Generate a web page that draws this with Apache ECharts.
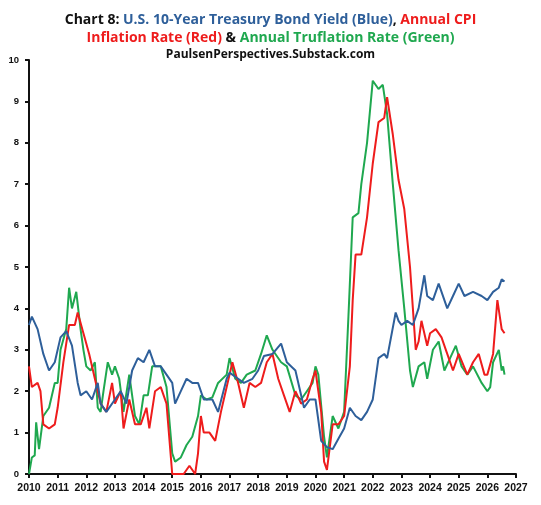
<!DOCTYPE html>
<html>
<head>
<meta charset="utf-8">
<script src="https://cdn.jsdelivr.net/npm/echarts@6/dist/echarts.min.js"></script>
<style>html,body{margin:0;padding:0;background:#fff}#main{width:541px;height:505px}</style>
</head>
<body>
<div id="main"></div>
<script>
//10年期国债收益率
var yieldData = [[2010.0,3.6],[2010.1,3.8],[2010.3,3.5],[2010.5,2.9],[2010.7,2.5],[2010.9,2.7],[2011.1,3.3],[2011.3,3.45],[2011.5,3.1],[2011.7,2.2],[2011.8,1.9],[2012.0,2.0],[2012.2,1.8],[2012.4,2.2],[2012.5,1.7],[2012.7,1.5],[2013.0,1.8],[2013.2,2.0],[2013.4,1.7],[2013.6,2.5],[2013.8,2.8],[2014.0,2.7],[2014.2,3.0],[2014.4,2.6],[2014.6,2.6],[2014.8,2.4],[2015.0,2.2],[2015.1,1.7],[2015.3,2.0],[2015.5,2.3],[2015.7,2.2],[2015.9,2.2],[2016.1,1.8],[2016.4,1.8],[2016.6,1.5],[2016.9,2.3],[2017.0,2.45],[2017.3,2.3],[2017.5,2.2],[2017.8,2.3],[2018.0,2.5],[2018.2,2.85],[2018.5,2.9],[2018.8,3.15],[2019.0,2.7],[2019.3,2.5],[2019.6,1.6],[2019.8,1.8],[2020.0,1.8],[2020.2,0.8],[2020.4,0.65],[2020.6,0.6],[2020.8,0.85],[2021.0,1.1],[2021.2,1.6],[2021.4,1.4],[2021.6,1.3],[2021.8,1.5],[2022.0,1.8],[2022.2,2.8],[2022.4,2.9],[2022.5,2.8],[2022.8,3.9],[2022.9,3.7],[2023.0,3.6],[2023.2,3.7],[2023.4,3.6],[2023.6,4.0],[2023.8,4.8],[2023.9,4.3],[2024.1,4.2],[2024.3,4.6],[2024.6,4.0],[2024.8,4.3],[2025.0,4.6],[2025.2,4.3],[2025.5,4.4],[2025.8,4.3],[2026.0,4.2],[2026.2,4.4],[2026.4,4.5],[2026.5,4.7],[2026.6,4.65]];
//CPI通胀率
var cpiData = [[2010.0,2.6],[2010.1,2.1],[2010.3,2.2],[2010.4,2.0],[2010.5,1.2],[2010.7,1.1],[2010.9,1.2],[2011.0,1.6],[2011.2,2.7],[2011.4,3.6],[2011.6,3.6],[2011.7,3.9],[2011.9,3.4],[2012.1,2.9],[2012.3,2.3],[2012.5,1.7],[2012.7,1.5],[2012.9,2.2],[2013.0,1.7],[2013.2,2.0],[2013.3,1.1],[2013.5,1.8],[2013.7,1.2],[2013.9,1.2],[2014.1,1.6],[2014.2,1.1],[2014.4,2.0],[2014.6,2.1],[2014.8,1.7],[2015.0,0.0],[2015.2,0.0],[2015.4,0.0],[2015.6,0.2],[2015.8,0.0],[2015.9,0.5],[2016.0,1.4],[2016.1,1.0],[2016.3,1.0],[2016.5,0.8],[2016.7,1.5],[2016.9,2.1],[2017.1,2.7],[2017.3,2.2],[2017.5,1.6],[2017.7,2.2],[2017.9,2.1],[2018.1,2.2],[2018.3,2.7],[2018.5,2.9],[2018.7,2.3],[2018.9,1.9],[2019.1,1.5],[2019.3,2.0],[2019.5,1.7],[2019.7,1.8],[2019.9,2.3],[2020.0,2.5],[2020.2,1.5],[2020.3,0.3],[2020.4,0.1],[2020.6,1.2],[2020.8,1.2],[2021.0,1.4],[2021.2,2.6],[2021.3,4.2],[2021.4,5.3],[2021.6,5.3],[2021.8,6.2],[2022.0,7.5],[2022.2,8.5],[2022.4,8.6],[2022.5,9.1],[2022.7,8.2],[2022.9,7.1],[2023.1,6.4],[2023.3,5.0],[2023.4,4.0],[2023.5,3.0],[2023.6,3.2],[2023.7,3.7],[2023.9,3.1],[2024.0,3.4],[2024.2,3.5],[2024.4,3.3],[2024.6,2.9],[2024.8,2.5],[2025.0,2.9],[2025.3,2.4],[2025.5,2.7],[2025.7,2.9],[2025.9,2.4],[2026.0,2.4],[2026.2,2.9],[2026.35,4.2],[2026.5,3.5],[2026.6,3.4]];
//Truflation通胀率
var truData = [[2010.0,0.0],[2010.1,0.4],[2010.2,0.45],[2010.25,1.25],[2010.35,0.6],[2010.5,1.4],[2010.7,1.6],[2010.9,2.2],[2011.0,2.2],[2011.1,3.0],[2011.3,3.5],[2011.4,4.5],[2011.5,4.0],[2011.65,4.4],[2011.8,3.5],[2011.9,3.0],[2012.0,2.6],[2012.15,2.5],[2012.3,2.7],[2012.4,1.6],[2012.5,1.5],[2012.6,2.0],[2012.75,2.7],[2012.9,2.4],[2013.0,2.6],[2013.15,2.3],[2013.3,1.5],[2013.5,2.4],[2013.7,1.4],[2013.85,1.2],[2014.0,1.9],[2014.15,1.9],[2014.3,2.6],[2014.45,2.6],[2014.6,2.6],[2014.8,2.1],[2015.0,0.5],[2015.1,0.3],[2015.3,0.4],[2015.5,0.7],[2015.7,0.9],[2015.9,1.4],[2016.0,1.9],[2016.2,1.8],[2016.4,1.85],[2016.6,2.2],[2016.9,2.4],[2017.0,2.8],[2017.2,2.3],[2017.4,2.2],[2017.6,2.4],[2017.9,2.5],[2018.1,2.9],[2018.3,3.35],[2018.5,3.0],[2018.8,2.7],[2019.0,2.6],[2019.3,1.9],[2019.5,1.8],[2019.7,2.0],[2019.9,2.2],[2020.0,2.6],[2020.1,2.4],[2020.3,0.9],[2020.4,0.4],[2020.6,1.4],[2020.8,1.1],[2021.0,1.5],[2021.15,3.8],[2021.3,6.2],[2021.5,6.3],[2021.6,7.0],[2021.8,8.0],[2022.0,9.5],[2022.2,9.3],[2022.35,9.4],[2022.5,8.7],[2022.7,7.0],[2022.9,5.4],[2023.1,4.0],[2023.3,2.5],[2023.4,2.1],[2023.6,2.6],[2023.8,2.7],[2023.9,2.3],[2024.1,3.0],[2024.3,3.2],[2024.5,2.5],[2024.7,2.8],[2024.9,3.1],[2025.1,2.6],[2025.3,2.4],[2025.5,2.6],[2025.8,2.2],[2026.0,2.0],[2026.1,2.1],[2026.2,2.7],[2026.4,3.0],[2026.5,2.5],[2026.55,2.6],[2026.6,2.4]];

var chart = echarts.init(document.getElementById('main'));
function line(name,data,color){
	return {name:name,type:'line',data:data,showSymbol:false,lineStyle:{color:color,width:2},z:name=='yield'?3:2};
}
chart.setOption({
	animation:false,
	title:{
		left:'center',top:6,
		text:'{k|Chart 8: }{b|U.S. 10-Year Treasury Bond Yield (Blue)}{k|, }{r|Annual CPI}\n{r|Inflation Rate (Red)}{k| & }{g|Annual Truflation Rate (Green)}\n{s|PaulsenPerspectives.Substack.com}',
		textStyle:{
			rich:{
				k:{color:'#111',fontSize:14,fontWeight:'bold',fontFamily:'Open Sans',lineHeight:18},
				b:{color:'#2e5f9a',fontSize:14,fontWeight:'bold',fontFamily:'Open Sans',lineHeight:18},
				r:{color:'#ee1c1c',fontSize:14,fontWeight:'bold',fontFamily:'Open Sans',lineHeight:18},
				g:{color:'#1fa84f',fontSize:14,fontWeight:'bold',fontFamily:'Open Sans',lineHeight:18},
				s:{color:'#111',fontSize:12,fontWeight:'bold',fontFamily:'Open Sans',lineHeight:16}
			}
		}
	},
	grid:{left:29,right:25,top:60,bottom:31},
	xAxis:{
		type:'value',min:2010,max:2027,interval:1,
		axisLine:{lineStyle:{color:'#111',width:2}},
		axisTick:{show:true,length:4,lineStyle:{color:'#111',width:2}},
		splitLine:{show:false},
		axisLabel:{color:'#111',fontWeight:'bold',fontFamily:'Liberation Sans',fontSize:10.5,margin:9,
			showMinLabel:true,showMaxLabel:true,hideOverlap:false,
			formatter:function(v){return String(v)}}
	},
	yAxis:{
		type:'value',min:0,max:10,interval:1,
		axisLine:{show:true,lineStyle:{color:'#111',width:2}},
		axisTick:{show:true,length:4,lineStyle:{color:'#111',width:2}},
		splitLine:{show:false},
		axisLabel:{color:'#111',fontWeight:'bold',fontFamily:'Liberation Sans',fontSize:9.5,margin:10}
	},
	series:[
		line('tru',truData,'#1fa84f'),
		line('cpi',cpiData,'#ee1c1c'),
		line('yield',yieldData,'#2e5f9a')
	]
});
</script>
</body>
</html>
